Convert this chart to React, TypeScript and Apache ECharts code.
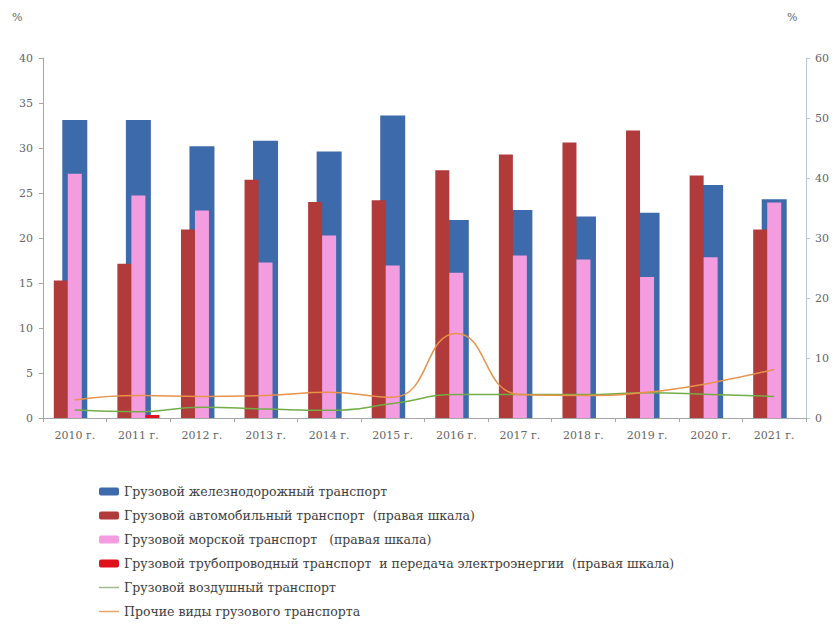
import React, { useEffect, useRef } from "react";
import * as echarts from "echarts";

const categories = ["2010 г.", "2011 г.", "2012 г.", "2013 г.", "2014 г.", "2015 г.", "2016 г.", "2017 г.", "2018 г.", "2019 г.", "2020 г.", "2021 г."];
const railway = [33.1, 33.1, 30.2, 30.8, 29.6, 33.6, 22.0, 23.1, 22.4, 22.8, 25.9, 24.3];
const road = [22.9, 25.7, 31.4, 39.7, 36.0, 36.3, 41.3, 43.9, 45.9, 47.9, 40.4, 31.4];
const sea = [40.7, 37.1, 34.6, 25.9, 30.4, 25.4, 24.2, 27.1, 26.4, 23.5, 26.8, 35.9];
const pipeline = [0, 0.5, 0, 0, 0, 0, 0, 0, 0, 0, 0, 0];
const air = [0.9, 0.7, 1.2, 1.0, 0.85, 1.6, 2.6, 2.6, 2.6, 2.8, 2.6, 2.4];
const other = [2.0, 2.5, 2.4, 2.5, 2.85, 2.3, 9.4, 2.6, 2.5, 2.85, 3.9, 5.4];

const names = [
  "Грузовой железнодорожный транспорт",
  "Грузовой автомобильный транспорт  (правая шкала)",
  "Грузовой морской транспорт   (правая шкала)",
  "Грузовой трубопроводный транспорт  и передача электроэнергии  (правая шкала)",
  "Грузовой воздушный транспорт",
  "Прочие виды грузового транспорта",
];

const FONT = "DejaVu Serif";
const LINE_ICON = "path://M0,0 L40,0 L40,3 L0,3 Z";

export default function App() {
  const ref = useRef<HTMLDivElement>(null);
  useEffect(() => {
    if (!ref.current) return;
    const chart = echarts.init(ref.current, null, { renderer: "svg" });
    const axisLabel = { color: "#666666", fontFamily: FONT, fontSize: 11 };
    chart.setOption({
      animation: false,
      backgroundColor: "#ffffff",
      textStyle: { fontFamily: FONT },
      grid: { left: 43, right: 26, top: 58, bottom: 210, containLabel: false },
      graphic: [
        { type: "text", left: 12, top: 12, style: { text: "%", fill: "#666666", fontFamily: FONT, fontSize: 11 } },
        { type: "text", left: 787, top: 12, style: { text: "%", fill: "#666666", fontFamily: FONT, fontSize: 11 } },
      ],
      legend: {
        orient: "vertical",
        left: 94,
        top: 479,
        itemGap: 9,
        itemWidth: 20,
        itemHeight: 8,
        textStyle: { color: "#404040", fontFamily: FONT, fontSize: 12.5, lineHeight: 15 },
        data: [
          { name: names[0] },
          { name: names[1] },
          { name: names[2] },
          { name: names[3] },
          { name: names[4], icon: LINE_ICON },
          { name: names[5], icon: LINE_ICON },
        ],
      },
      xAxis: [
        {
          type: "category",
          data: categories,
          axisLine: { lineStyle: { color: "#a6a6a6" } },
          axisTick: { show: true, length: 4, lineStyle: { color: "#a6a6a6" } },
          axisLabel: { ...axisLabel, margin: 12 },
        },
        { type: "category", data: categories, show: false },
      ],
      yAxis: [
        {
          type: "value",
          min: 0,
          max: 40,
          interval: 5,
          splitLine: { show: false },
          axisLine: { show: true, lineStyle: { color: "#a6a6a6" } },
          axisTick: { show: true, length: 4, lineStyle: { color: "#a6a6a6" } },
          axisLabel: { ...axisLabel, margin: 10 },
        },
        {
          type: "value",
          min: 0,
          max: 60,
          interval: 10,
          position: "right",
          splitLine: { show: false },
          axisLine: { show: true, lineStyle: { color: "#b7c9cc" } },
          axisTick: { show: true, length: 4, lineStyle: { color: "#b7c9cc" } },
          axisLabel: { ...axisLabel, margin: 9 },
        },
      ],
      series: [
        {
          name: names[0], type: "bar", xAxisIndex: 0, yAxisIndex: 0, data: railway,
          barWidth: 25, itemStyle: { color: "#3d6aaa" }, z: 2,
        },
        {
          name: names[1], type: "bar", xAxisIndex: 1, yAxisIndex: 1, data: road,
          barWidth: 14, barGap: "0%", itemStyle: { color: "#b13a3a" }, z: 3,
        },
        {
          name: names[2], type: "bar", xAxisIndex: 1, yAxisIndex: 1, data: sea,
          barWidth: 14, barGap: "0%", itemStyle: { color: "#f49ce0" }, z: 3,
        },
        {
          name: names[3], type: "bar", xAxisIndex: 1, yAxisIndex: 1, data: pipeline,
          barWidth: 14, barGap: "0%", itemStyle: { color: "#e0101c" }, z: 3,
        },
        {
          name: names[4], type: "line", xAxisIndex: 0, yAxisIndex: 0, data: air,
          smooth: true, symbol: "none", lineStyle: { color: "#72ad48", width: 1.5 },
          itemStyle: { color: "#9fb98a" }, z: 4,
        },
        {
          name: names[5], type: "line", xAxisIndex: 0, yAxisIndex: 0, data: other,
          smooth: true, symbol: "none", lineStyle: { color: "#e8924a", width: 1.5 },
          itemStyle: { color: "#e8a46a" }, z: 4,
        },
      ],
    });
    return () => chart.dispose();
  }, []);
  return <div ref={ref} style={{ position: "fixed", left: 0, top: 0, width: 832, height: 628 }} />;
}
